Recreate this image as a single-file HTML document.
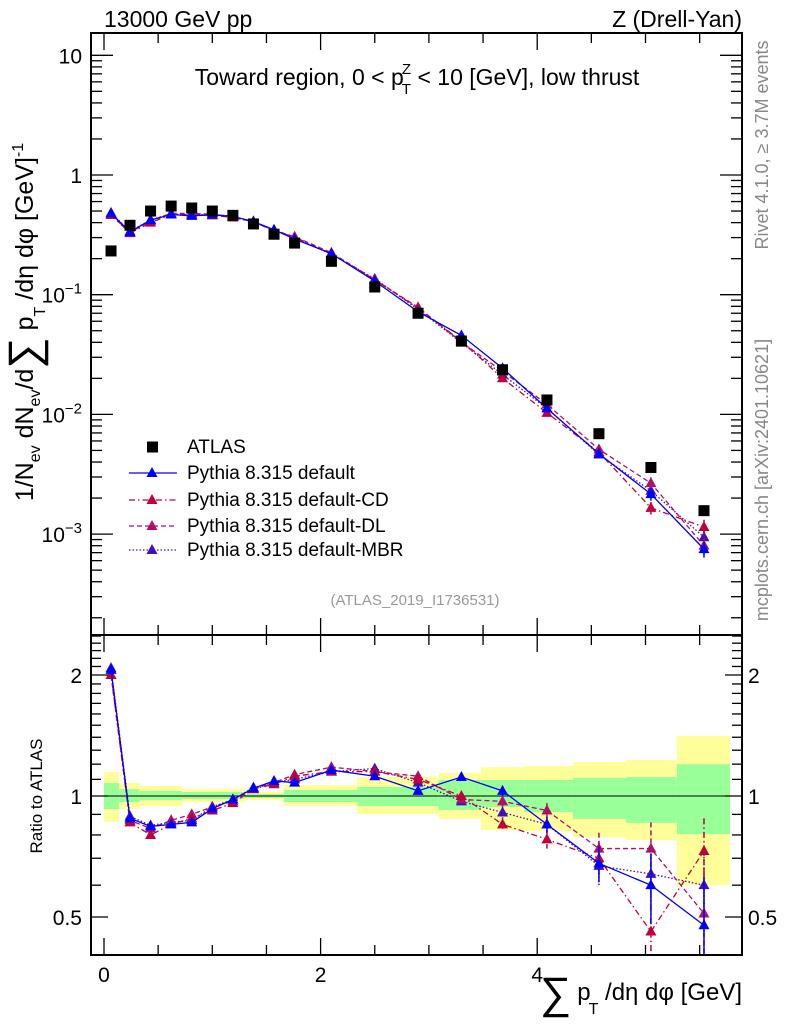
<!DOCTYPE html>
<html><head><meta charset="utf-8"><style>
html,body{margin:0;padding:0;background:#fff}
svg{display:block;font-family:"Liberation Sans",sans-serif}
</style></head><body>
<svg id="c" width="786" height="1024" viewBox="0 0 786 1024" xmlns="http://www.w3.org/2000/svg">
<g id="bands"></g>
<g id="marks"></g>
<g id="axes"></g>
<text x="104" y="27" font-size="23">13000 GeV pp</text>
<text x="742" y="27" font-size="23" text-anchor="end">Z (Drell-Yan)</text>
<text x="417" y="85" font-size="23" text-anchor="middle">Toward region, 0 &lt; p<tspan font-size="15" dx="-2" dy="9">T</tspan><tspan font-size="15" dx="-9" dy="-20">Z</tspan><tspan dy="11"> &lt; 10 [GeV], low thrust</tspan></text>
<text x="415" y="605" font-size="15" fill="#999" text-anchor="middle">(ATLAS_2019_I1736531)</text>
<text transform="translate(768,145) rotate(-90)" font-size="18" fill="#888" text-anchor="middle">Rivet 4.1.0, ≥ 3.7M events</text>
<text transform="translate(768,480) rotate(-90)" font-size="18" fill="#888" text-anchor="middle">mcplots.cern.ch [arXiv:2401.10621]</text>
<text transform="translate(33,322) rotate(-90)" font-size="25" text-anchor="middle">1/N<tspan font-size="16" dy="7">ev</tspan><tspan dy="-7"> dN</tspan><tspan font-size="16" dy="7">ev</tspan><tspan dy="-7">/d</tspan><tspan font-size="44" dy="6">∑</tspan><tspan dy="-6"> p</tspan><tspan font-size="16" dy="12">T</tspan><tspan dy="-12"> /dη dφ  [GeV]</tspan><tspan font-size="16" dy="-10">-1</tspan></text>
<text transform="translate(42,796) rotate(-90)" font-size="17" text-anchor="middle">Ratio to ATLAS</text>
<text x="742" y="1000" font-size="24" text-anchor="end"><tspan font-size="44" dy="8">∑</tspan><tspan dx="6" dy="-8">p</tspan><tspan font-size="16" dx="-2" dy="14">T</tspan><tspan dy="-14"> /dη dφ [GeV]</tspan></text>
<g id="legend"></g>
</svg>
<script>
const xCenters=[0.065,0.24,0.43,0.62,0.81,1.0,1.19,1.38,1.57,1.76,2.1,2.5,2.9,3.3,3.68,4.09,4.57,5.05,5.54];
const atlas=[0.232,0.38,0.50,0.55,0.53,0.50,0.46,0.39,0.32,0.27,0.19,0.116,0.070,0.041,0.0236,0.0132,0.0069,0.0036,0.00157];
const ratioDefault=[2.06,0.88,0.84,0.85,0.86,0.93,0.98,1.045,1.09,1.08,1.16,1.12,1.03,1.115,1.03,0.85,0.68,0.60,0.477];
const ratioCD=[2.0,0.86,0.80,0.85,0.88,0.92,0.96,1.04,1.07,1.12,1.15,1.15,1.10,1.0,0.85,0.78,0.70,0.46,0.73];
const ratioDL=[2.0,0.87,0.83,0.87,0.90,0.94,0.97,1.04,1.08,1.13,1.18,1.15,1.12,0.98,0.97,0.92,0.74,0.74,0.51];
const ratioMBR=[2.08,0.89,0.845,0.86,0.87,0.94,0.98,1.05,1.08,1.10,1.15,1.17,1.08,0.97,0.91,0.85,0.67,0.64,0.60];
const mcErr=[0,0,0,0,0,0,0,0,0,0,0,0.01,0.015,0.02,0.03,0.04,0.07,0.12,0.15];
const bandEdges=[0,0.14,0.33,0.72,1.30,1.66,2.34,3.09,3.48,3.88,4.33,4.82,5.29,5.78];
const yellowHi=[1.147,1.077,1.059,1.041,1.023,1.065,1.115,1.141,1.18,1.188,1.215,1.229,1.41];
const yellowLo=[0.862,0.928,0.944,0.966,0.977,0.944,0.902,0.877,0.823,0.818,0.79,0.777,0.60];
const greenHi=[1.077,1.04,1.029,1.023,1.011,1.035,1.053,1.096,1.096,1.096,1.108,1.115,1.20];
const greenLo=[0.928,0.966,0.977,0.983,0.989,0.966,0.944,0.923,0.939,0.912,0.877,0.857,0.804];
const mainYTicks=["10","1","10^-1","10^-2","10^-3"];
const ratioYTicks=["2","1","0.5"];
const xTicks=["0","2","4"];

const NS="http://www.w3.org/2000/svg";
const L=91,R=742,T=33,MB=635,RB=955;
const X=v=>104+v*108.3;
const YM=v=>175-Math.log10(v)*119.7;
const YR=v=>796-Math.log2(v)*121;
function mk(p,tag,a){const e=document.createElementNS(NS,tag);for(const k in a)e.setAttribute(k,a[k]);p.appendChild(e);return e;}
const bands=document.getElementById('bands'),marks=document.getElementById('marks'),axes=document.getElementById('axes'),leg=document.getElementById('legend');

for(let i=0;i<yellowHi.length;i++){
 const x0=X(bandEdges[i]),x1=X(bandEdges[i+1]);
 let r=mk(bands,'rect',{x:x0,y:YR(yellowHi[i]),width:x1-x0,height:YR(yellowLo[i])-YR(yellowHi[i]),fill:'#ffff99'});
 
 
 r=mk(bands,'rect',{x:x0,y:YR(greenHi[i]),width:x1-x0,height:YR(greenLo[i])-YR(greenHi[i]),fill:'#99ff99'});
 
 
}
let ln=mk(bands,'line',{x1:L,x2:R,y1:YR(1),y2:YR(1),stroke:'#000','stroke-width':1});



const series=[
 {n:'default',r:ratioDefault,c:'#0000ff',d:''},
 {n:'default-CD',r:ratioCD,c:'#c0003c',d:'6,3,1.5,3'},
 {n:'default-DL',r:ratioDL,c:'#b0106a',d:'5,3'},
 {n:'default-MBR',r:ratioMBR,c:'#4010c0',d:'1.5,2'}
];
function tri(g,x,y,c,name){const t=mk(g,'polygon',{points:`${x},${y-6} ${x-5.5},${y+4} ${x+5.5},${y+4}`,fill:c});
 
 }
const clipM=mk(axes,'clipPath',{id:'cm'});mk(clipM,'rect',{x:L,y:T,width:R-L,height:MB-T});
const clipR=mk(axes,'clipPath',{id:'cr'});mk(clipR,'rect',{x:L,y:MB,width:R-L,height:RB-MB});
const gm=mk(marks,'g',{'clip-path':'url(#cm)'}),gr=mk(marks,'g',{'clip-path':'url(#cr)'});
series.slice().reverse().forEach(s=>{
 const mainVals=atlas.map((a,i)=>a*s.r[i]);
 let p=mk(gm,'polyline',{points:xCenters.map((x,i)=>X(x)+','+YM(mainVals[i])).join(' '),fill:'none',stroke:s.c,'stroke-width':1.3,'stroke-dasharray':s.d});
 
 
 p=mk(gr,'polyline',{points:xCenters.map((x,i)=>X(x)+','+YR(s.r[i])).join(' '),fill:'none',stroke:s.c,'stroke-width':1.3,'stroke-dasharray':s.d});
 
 
 xCenters.forEach((x,i)=>{
  if(mcErr[i]>0){
   const e1=mk(gr,'line',{x1:X(x),x2:X(x),y1:YR(s.r[i]+mcErr[i]),y2:YR(Math.max(0.3,s.r[i]-mcErr[i])),stroke:s.c,'stroke-width':1.5,'stroke-dasharray':s.d});
   
   
   const e2=mk(gm,'line',{x1:X(x),x2:X(x),y1:YM(mainVals[i]*(1+mcErr[i])),y2:YM(mainVals[i]*(1-mcErr[i])),stroke:s.c,'stroke-width':1.5});
   
   
  }
  tri(gm,X(x),YM(mainVals[i]),s.c,'main-point-'+s.n);
  tri(gr,X(x),YR(s.r[i]),s.c,'ratio-point-'+s.n);
 });
});
xCenters.forEach((x,i)=>{const r=mk(gm,'rect',{x:X(x)-5.5,y:YM(atlas[i])-5.5,width:11,height:11,fill:'#000'});
 
 });

[[T,MB],[MB,RB]].forEach(([a,b])=>{const f=mk(axes,'rect',{x:L,y:a,width:R-L,height:b-a,fill:'none',stroke:'#000','stroke-width':2});
 
 });
function tk(x1,y1,x2,y2){mk(axes,'line',{x1,y1,x2,y2,stroke:'#000','stroke-width':1.3});}
for(let v=0;v<=5.9;v+=0.5){const x=X(v),maj=Math.abs(v%2)<1e-6,len=maj?17:10;
 tk(x,T,x,T+len);tk(x,MB,x,MB-len);tk(x,MB,x,MB+len);tk(x,RB,x,RB-len);}
xTicks.forEach(t=>{const e=mk(axes,'text',{x:X(+t),y:982,'font-size':21,'text-anchor':'middle'});e.textContent=t;
 
 });
for(let d=-4;d<=1;d++)for(let m=1;m<10;m++){const v=m*Math.pow(10,d),y=YM(v);if(y<T||y>MB)continue;const len=m===1?22:11;
 tk(L,y,L+len,y);tk(R,y,R-len,y);}
mainYTicks.forEach(t=>{const v=t.includes('^')?Math.pow(10,+t.split('^')[1]):+t;const y=YM(v)+8;
 const e=mk(axes,'text',{x:82,y:y,'font-size':21,'text-anchor':'end'});
 if(t.includes('^')){e.innerHTML='10<tspan font-size="15" dy="-9">'+t.split('^')[1].replace('-','−')+'</tspan>';}else e.textContent=t;
 
 });
for(let v=0.4;v<=2.55;v+=0.1){const y=YR(v);if(y<MB||y>RB)continue;const maj=[0.5,1,2].some(q=>Math.abs(q-v)<1e-6);const len=maj?17:10;
 tk(L,y,L+len,y);tk(R,y,R-len,y);}
ratioYTicks.forEach(t=>{const y=YR(+t)+8;
 let e=mk(axes,'text',{x:82,y:y,'font-size':21,'text-anchor':'end'});e.textContent=t;
 
 
 e=mk(axes,'text',{x:748,y:y,'font-size':21});e.textContent=t;
 
 });
const legRows=[['ATLAS',null],['Pythia 8.315 default',series[0]],['Pythia 8.315 default-CD',series[1]],['Pythia 8.315 default-DL',series[2]],['Pythia 8.315 default-MBR',series[3]]];
const legY=[447,473,500,526,550];
legRows.forEach(([lab,s],i)=>{const y=legY[i];const g=mk(leg,'g',{});
 
 
 if(!s)mk(g,'rect',{x:147,y:y-5.5,width:11,height:11,fill:'#000'});
 else{mk(g,'line',{x1:129,x2:177,y1:y,y2:y,stroke:s.c,'stroke-width':1.3,'stroke-dasharray':s.d});tri(g,152,y,s.c,'legend-marker');}
 const t=mk(g,'text',{x:187,y:y+6,'font-size':19});t.textContent=lab;});
</script>
</body></html>
